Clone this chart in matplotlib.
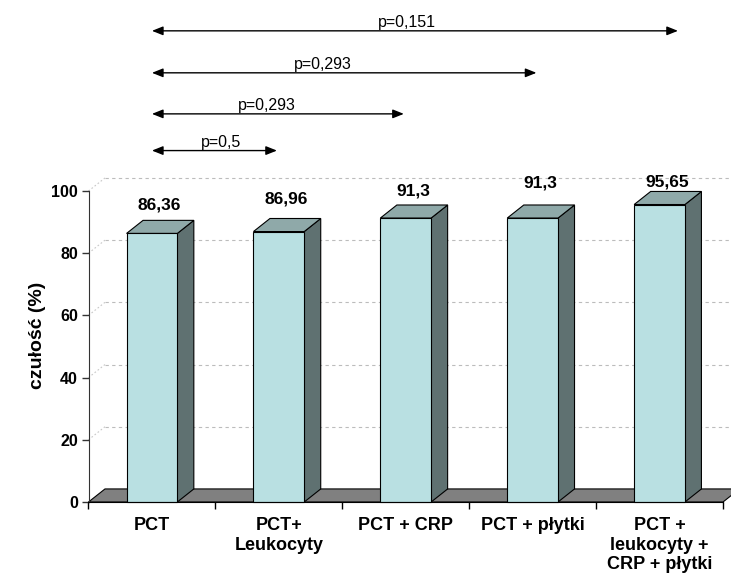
import matplotlib.pyplot as plt
from matplotlib.patches import Polygon
from matplotlib.lines import Line2D

plt.rcParams['font.family'] = ['Liberation Sans', 'DejaVu Sans']

# Sensitivity of PCT alone and in combination with other markers
categories = ['PCT', 'PCT+\nLeukocyty', 'PCT + CRP', 'PCT + płytki',
              'PCT +\nleukocyty +\nCRP + płytki']
sensitivity = [86.36, 86.96, 91.3, 91.3, 95.65]
value_labels = ['86,36', '86,96', '91,3', '91,3', '95,65']

# pairwise comparisons against PCT alone
compare_to = [1, 2, 3, 4]
p_labels = ['p=0,5', 'p=0,293', 'p=0,293', 'p=0,151']

# layout of the annotations (data units)
label_dy = [9.1, 10.5, 8.7, 11.3, 7.2]
arrow_ends = [0.985, 1.985, 3.03, 4.145]
arrow_y = [113.0, 124.8, 138.0, 151.5]
p_text_x = [0.387, 0.678, 1.119, 1.781]

# pseudo-3D depth offset
dx, dy = 0.13, 4.2
bar_w = 0.40

front_c = '#B9E0E2'
top_c = '#8FA9A9'
side_c = '#5F7171'
floor_c = '#808080'

fig = plt.figure(figsize=(7.31, 5.85), dpi=100)
ax = fig.add_axes([88.5 / 731, 83 / 585, 634.5 / 731, 311 / 585])
ax.set_xlim(-0.5, 4.5)
ax.set_ylim(0, 100)

# back wall gridlines and the little diagonals to the axis
for v in range(20, 101, 20):
    ax.add_line(Line2D([-0.5 + dx, 4.5 + dx + 0.2], [v + dy, v + dy], color='#bcbcbc',
                       lw=0.8, ls=(0, (3, 3)), clip_on=False, zorder=1))
    ax.add_line(Line2D([-0.5, -0.5 + dx], [v, v + dy], color='#c8c8c8',
                       lw=0.8, ls=(0, (1.5, 2)), clip_on=False, zorder=1))

# floor
ax.add_patch(Polygon([(-0.5, 0), (4.5, 0), (4.5 + dx, dy), (-0.5 + dx, dy)],
                     closed=True, facecolor=floor_c, edgecolor='black', lw=0.8,
                     clip_on=False, zorder=2))

# bars
for i, v in enumerate(sensitivity):
    x0, x1 = i - bar_w / 2, i + bar_w / 2
    ax.add_patch(Polygon([(x1, 0), (x1 + dx, dy), (x1 + dx, v + dy), (x1, v)],
                         closed=True, facecolor=side_c, edgecolor='black', lw=0.8,
                         clip_on=False, zorder=3))
    ax.add_patch(Polygon([(x0, v), (x1, v), (x1 + dx, v + dy), (x0 + dx, v + dy)],
                         closed=True, facecolor=top_c, edgecolor='black', lw=0.8,
                         clip_on=False, zorder=3))
    ax.add_patch(Polygon([(x0, 0), (x1, 0), (x1, v), (x0, v)],
                         closed=True, facecolor=front_c, edgecolor='black', lw=0.8,
                         clip_on=False, zorder=4))
    ax.text(i + 0.06, v + label_dy[i], value_labels[i], ha='center', va='center',
            fontsize=12.5, fontweight='bold', zorder=5, clip_on=False)

# significance arrows
for j, idx in enumerate(compare_to):
    ax.annotate('', xy=(arrow_ends[j], arrow_y[j]), xytext=(0, arrow_y[j]),
                xycoords='data', annotation_clip=False,
                arrowprops=dict(arrowstyle='<|-|>,head_length=0.55,head_width=0.22',
                                color='black', lw=1.0, shrinkA=0, shrinkB=0,
                                mutation_scale=12))
    ax.text(p_text_x[j], arrow_y[j] + 0.3, p_labels[j], ha='left', va='bottom',
            fontsize=11.5, clip_on=False)

# axes styling
for s in ['top', 'right']:
    ax.spines[s].set_visible(False)
ax.spines['left'].set_color('#333333')
ax.spines['bottom'].set_color('black')
ax.spines['bottom'].set_zorder(6)
ax.set_yticks(range(0, 101, 20))
ax.set_yticklabels([str(t) for t in range(0, 101, 20)], fontsize=11.5, fontweight='bold')
ax.tick_params(axis='y', length=5, width=1, pad=2.5, color='#333333')
ax.set_xticks([b - 0.5 for b in range(6)])
ax.set_xticklabels([''] * 6)
ax.tick_params(axis='x', which='major', length=5, width=1)
ax.set_xticks(range(5), minor=True)
ax.set_xticklabels(categories, minor=True, fontsize=13, fontweight='bold')
ax.tick_params(axis='x', which='minor', length=0, pad=11)

fig.text(38 / 731, 1 - 335 / 585, 'czułość (%)', rotation=90, ha='center',
         va='center', fontsize=14, fontweight='bold')

fig.savefig('out.png', dpi=100)
